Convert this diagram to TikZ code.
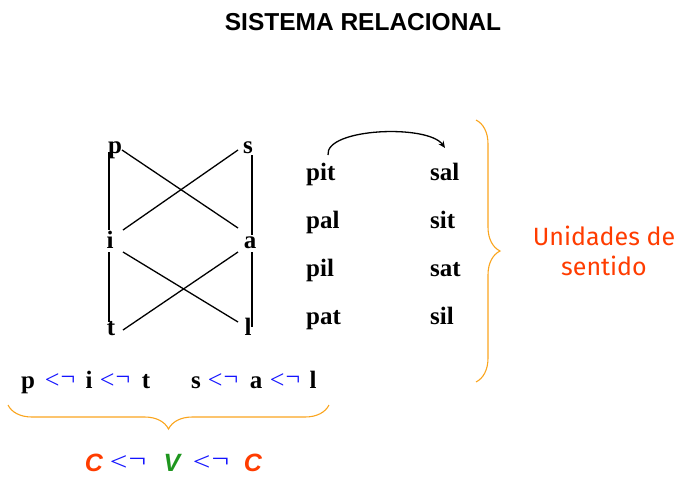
\documentclass[tikz,border=0pt]{standalone}
\usepackage{fontspec}
\usepackage{graphicx}
\setmainfont{Liberation Serif}
\newfontfamily\arialf{Liberation Sans}
\newfontfamily\comicf{Fira Sans}
\usetikzlibrary{decorations.pathreplacing,calc,arrows.meta}
\definecolor{braceor}{RGB}{250,165,30}
\definecolor{redor}{RGB}{255,60,0}
\definecolor{arrblue}{RGB}{20,20,255}
\definecolor{vgreen}{RGB}{30,150,30}
\newcommand{\larr}{\textcolor{arrblue}{\fontsize{26}{26}\selectfont<\kern1pt\raisebox{3pt}{¬}}}
\tikzset{
  letter/.style={font=\fontsize{25}{25}\selectfont\bfseries, inner sep=0pt, anchor=base},
  word/.style={font=\fontsize{25}{25}\selectfont\bfseries, inner sep=0pt, anchor=base west},
  rowtxt/.style={font=\fontsize{25}{25}\selectfont\bfseries, inner sep=0pt, anchor=base},
  arrtxt/.style={inner sep=0pt, anchor=base},
  cvctxt/.style={font=\arialf\fontsize{25}{25}\selectfont\bfseries\itshape, inner sep=0pt, anchor=base},
  edge/.style={line width=1.3pt},
  obrace/.style={draw=braceor, line width=1.1pt, decorate, decoration={brace, amplitude=24pt}},
}
\begin{document}
\begin{tikzpicture}[x=1pt,y=-1pt]
\useasboundingbox (0,0) rectangle (677,477);
\node[font=\arialf\fontsize{24.5}{24.5}\selectfont\bfseries, inner sep=0pt, anchor=base] (title) at (363,30) {SISTEMA RELACIONAL};
% letters
\node[letter] (p) at (115,153) {p};
\node[letter] (s) at (248,153) {s};
\node[letter] (i) at (110,248) {i};
\node[letter] (a) at (250,248) {a};
\node[letter] (t) at (111,335) {t};
\node[letter] (l) at (248,335) {l};
% connectors
\draw[edge] ([shift={(-6,-1)}]p.base) -- ([shift={(-1,-18)}]i.base);
\draw[edge] ([shift={(-1,4)}]i.base) -- ([shift={(-2,-13)}]t.base);
\draw[edge] ([shift={(4,2)}]s.base) -- ([shift={(2,-13)}]a.base);
\draw[edge] ([shift={(2,4)}]a.base) -- ([shift={(4,-8)}]l.base);
\draw[edge] ([shift={(7,-3)}]p.base) -- ([shift={(-12,-20)}]a.base);
\draw[edge] ([shift={(-10,-3)}]s.base) -- ([shift={(13,-18)}]i.base);
\draw[edge] ([shift={(13,4)}]i.base) -- ([shift={(-10,-13)}]l.base);
\draw[edge] ([shift={(-12,4)}]a.base) -- ([shift={(12,-5)}]t.base);
% words
\node[word] (pit) at (306,180) {pit};
\node[word] (pal) at (306,228) {pal};
\node[word] (pil) at (306,276) {pil};
\node[word] (pat) at (306,324) {pat};
\node[word] (sal) at (430,180) {sal};
\node[word] (sit) at (430,228) {sit};
\node[word] (sat) at (430,276) {sat};
\node[word] (sil) at (430,324) {sil};
\draw[line width=1.3pt,-{Stealth[length=7pt,width=6pt]}] ([shift={(22,-25)}]pit.base west) .. controls (325,128) and (428,124) .. ([shift={(15,-32)}]sal.base west);
% right brace
\coordinate (rb1) at (476,120);
\coordinate (rb2) at (476,382);
\draw[obrace] (rb1) -- (rb2);
\node[font=\comicf\fontsize{25}{30}\selectfont, text=redor, align=center] (unid) at (604,251) {Unidades de\\sentido};
% bottom row
\node[rowtxt] (rp) at (28,388) {p};
\node[arrtxt] (r1) at (60,388) {\larr};
\node[rowtxt] (ri) at (89,388) {i};
\node[arrtxt] (r2) at (115,388) {\larr};
\node[rowtxt] (rt) at (146,388) {t};
\node[rowtxt] (rs) at (196,388) {s};
\node[arrtxt] (r3) at (223,388) {\larr};
\node[rowtxt] (ra) at (256,388) {a};
\node[arrtxt] (r4) at (285,388) {\larr};
\node[rowtxt] (rl) at (313,388) {l};
\coordinate (bb1) at (8,405);
\coordinate (bb2) at (329,405);
\draw[obrace] (bb2) -- (bb1);
% C V C
\node[cvctxt, text=redor] (c1) at (94,471) {C};
\node[arrtxt] (c2) at (128,470) {\scalebox{1.2}[1]{\larr}};
\node[cvctxt, text=vgreen] (c3) at (172,471) {V};
\node[arrtxt] (c4) at (211,470) {\scalebox{1.2}[1]{\larr}};
\node[cvctxt, text=redor] (c5) at (253,471) {C};
\end{tikzpicture}
\end{document}
